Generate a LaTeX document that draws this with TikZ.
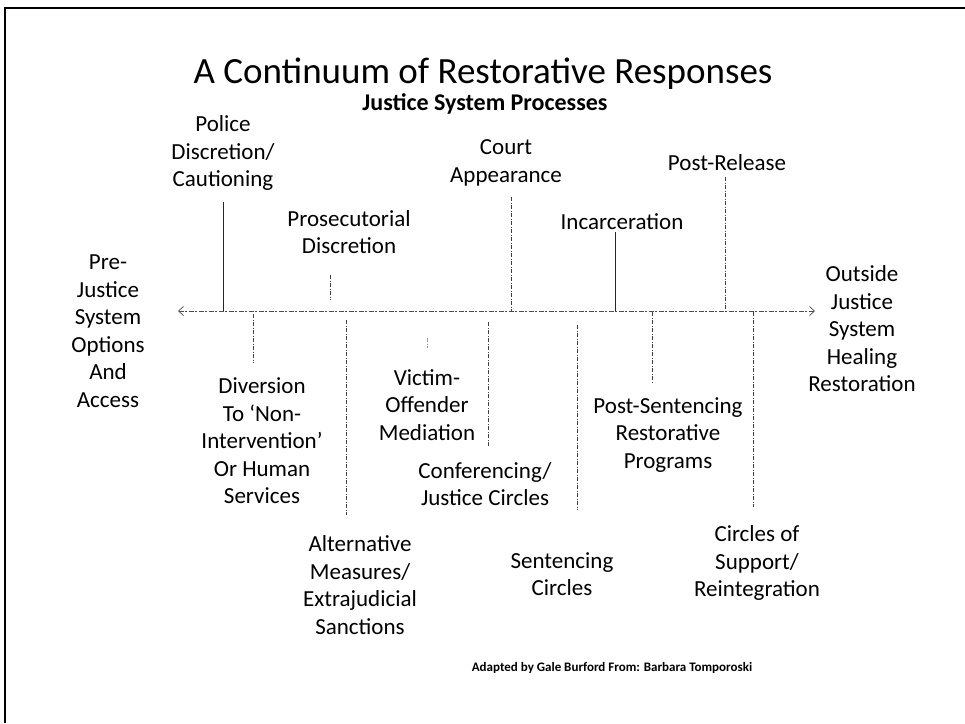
\documentclass[tikz,border=0pt]{standalone}
\usepackage{fontspec}
\setmainfont{Carlito}
\usetikzlibrary{arrows.meta}
\begin{document}
\begin{tikzpicture}[x=1pt,y=-1pt,
  lbl/.style={align=center,inner sep=0pt,font=\fontsize{23}{27.5}\selectfont},
  solidtick/.style={draw=black!85,line width=0.9pt},
  dashtick/.style={draw=black!75,line width=0.7pt,dash pattern=on 4pt off 1.5pt on 1pt off 1.5pt},
  axisline/.style={draw=black!70,line width=0.7pt,dash pattern=on 5pt off 1.5pt on 2pt off 1.5pt,
     {Straight Barb[length=5pt,width=9pt]}-{Straight Barb[length=5pt,width=9pt]}}]
\useasboundingbox (0,0) rectangle (965,723);
\fill[white] (0,0) rectangle (965,723);
% frame
\draw[line width=1.4pt] (965,8) -- (5,8) -- (5,723);
% titles
\node[inner sep=0pt,font=\fontsize{37}{40}\selectfont] (title) at (483,74) {A Continuum of Restorative Responses};
\node[inner sep=0pt,font=\fontsize{24}{28}\bfseries] (sub) at (485,104) {Justice System Processes};
% axis
\coordinate (axL) at (178,311);
\coordinate (axR) at (815,311);
\draw[axisline] (axL) -- (axR);
% end labels
\node[lbl] (pre) at (108,331) {Pre-\\Justice\\System\\Options\\And\\Access};
\node[lbl] (out) at (862,329) {Outside\\Justice\\System\\Healing\\Restoration};
% above-axis labels
\node[lbl] (police) at (223,153) {Police\\Discretion/\\Cautioning};
\node[lbl] (prosec) at (349,232) {Prosecutorial\\Discretion};
\node[lbl] (court) at (506,163) {Court\\Appearance};
\node[lbl] (incar) at (622,222) {Incarceration};
\node[lbl] (postrel) at (727,163) {Post-Release};
% below-axis labels
\node[lbl] (divers) at (262,441) {Diversion\\To ‘Non-\\Intervention’\\Or Human\\Services};
\node[lbl] (altern) at (360,585) {Alternative\\Measures/\\Extrajudicial\\Sanctions};
\node[lbl] (victim) at (427,405) {Victim-\\Offender\\Mediation};
\node[lbl] (confer) at (485,484) {Conferencing/\\Justice Circles};
\node[lbl] (sentc) at (562,574) {Sentencing\\Circles};
\node[lbl] (postsent) at (668,435) {Post-Sentencing\\Restorative\\Programs};
\node[lbl] (cos) at (757,563) {Circles of\\Support/\\Reintegration};
% credit
\node[inner sep=0pt,font=\fontsize{13}{15}\bfseries] (credit) at (612,668) {Adapted by Gale Burford From: Barbara Tomporoski};
% tick coordinates
\coordinate (policeT) at (223,202); \coordinate (policeA) at (223,311);
\coordinate (prosT) at (330,275); \coordinate (prosB) at (330,300);
\coordinate (courtT) at (511,197); \coordinate (courtA) at (511,311);
\coordinate (incarT) at (615,232); \coordinate (incarA) at (615,311);
\coordinate (postrelT) at (725,177); \coordinate (postrelA) at (725,311);
\coordinate (diverA) at (253,314); \coordinate (diverB) at (253,363);
\coordinate (altT) at (346,320); \coordinate (altB) at (346,515);
\coordinate (vicT) at (427,338); \coordinate (vicB) at (427,348);
\coordinate (confT) at (488,322); \coordinate (confB) at (488,447);
\coordinate (sentT) at (577,325); \coordinate (sentB) at (577,510);
\coordinate (psA) at (652,312); \coordinate (psB) at (652,382);
\coordinate (cosA) at (753,312); \coordinate (cosB) at (753,507);
% ticks
\draw[solidtick] (policeT) -- (policeA);
\draw[dashtick] (prosT) -- (prosB);
\draw[dashtick] (courtT) -- (courtA);
\draw[solidtick] (incarT) -- (incarA);
\draw[dashtick] (postrelT) -- (postrelA);
\draw[dashtick] (diverA) -- (diverB);
\draw[dashtick] (altT) -- (altB);
\draw[dashtick,draw=black!40] (vicT) -- (vicB);
\draw[dashtick] (confT) -- (confB);
\draw[dashtick] (sentT) -- (sentB);
\draw[dashtick] (psA) -- (psB);
\draw[dashtick] (cosA) -- (cosB);
\end{tikzpicture}
\end{document}
